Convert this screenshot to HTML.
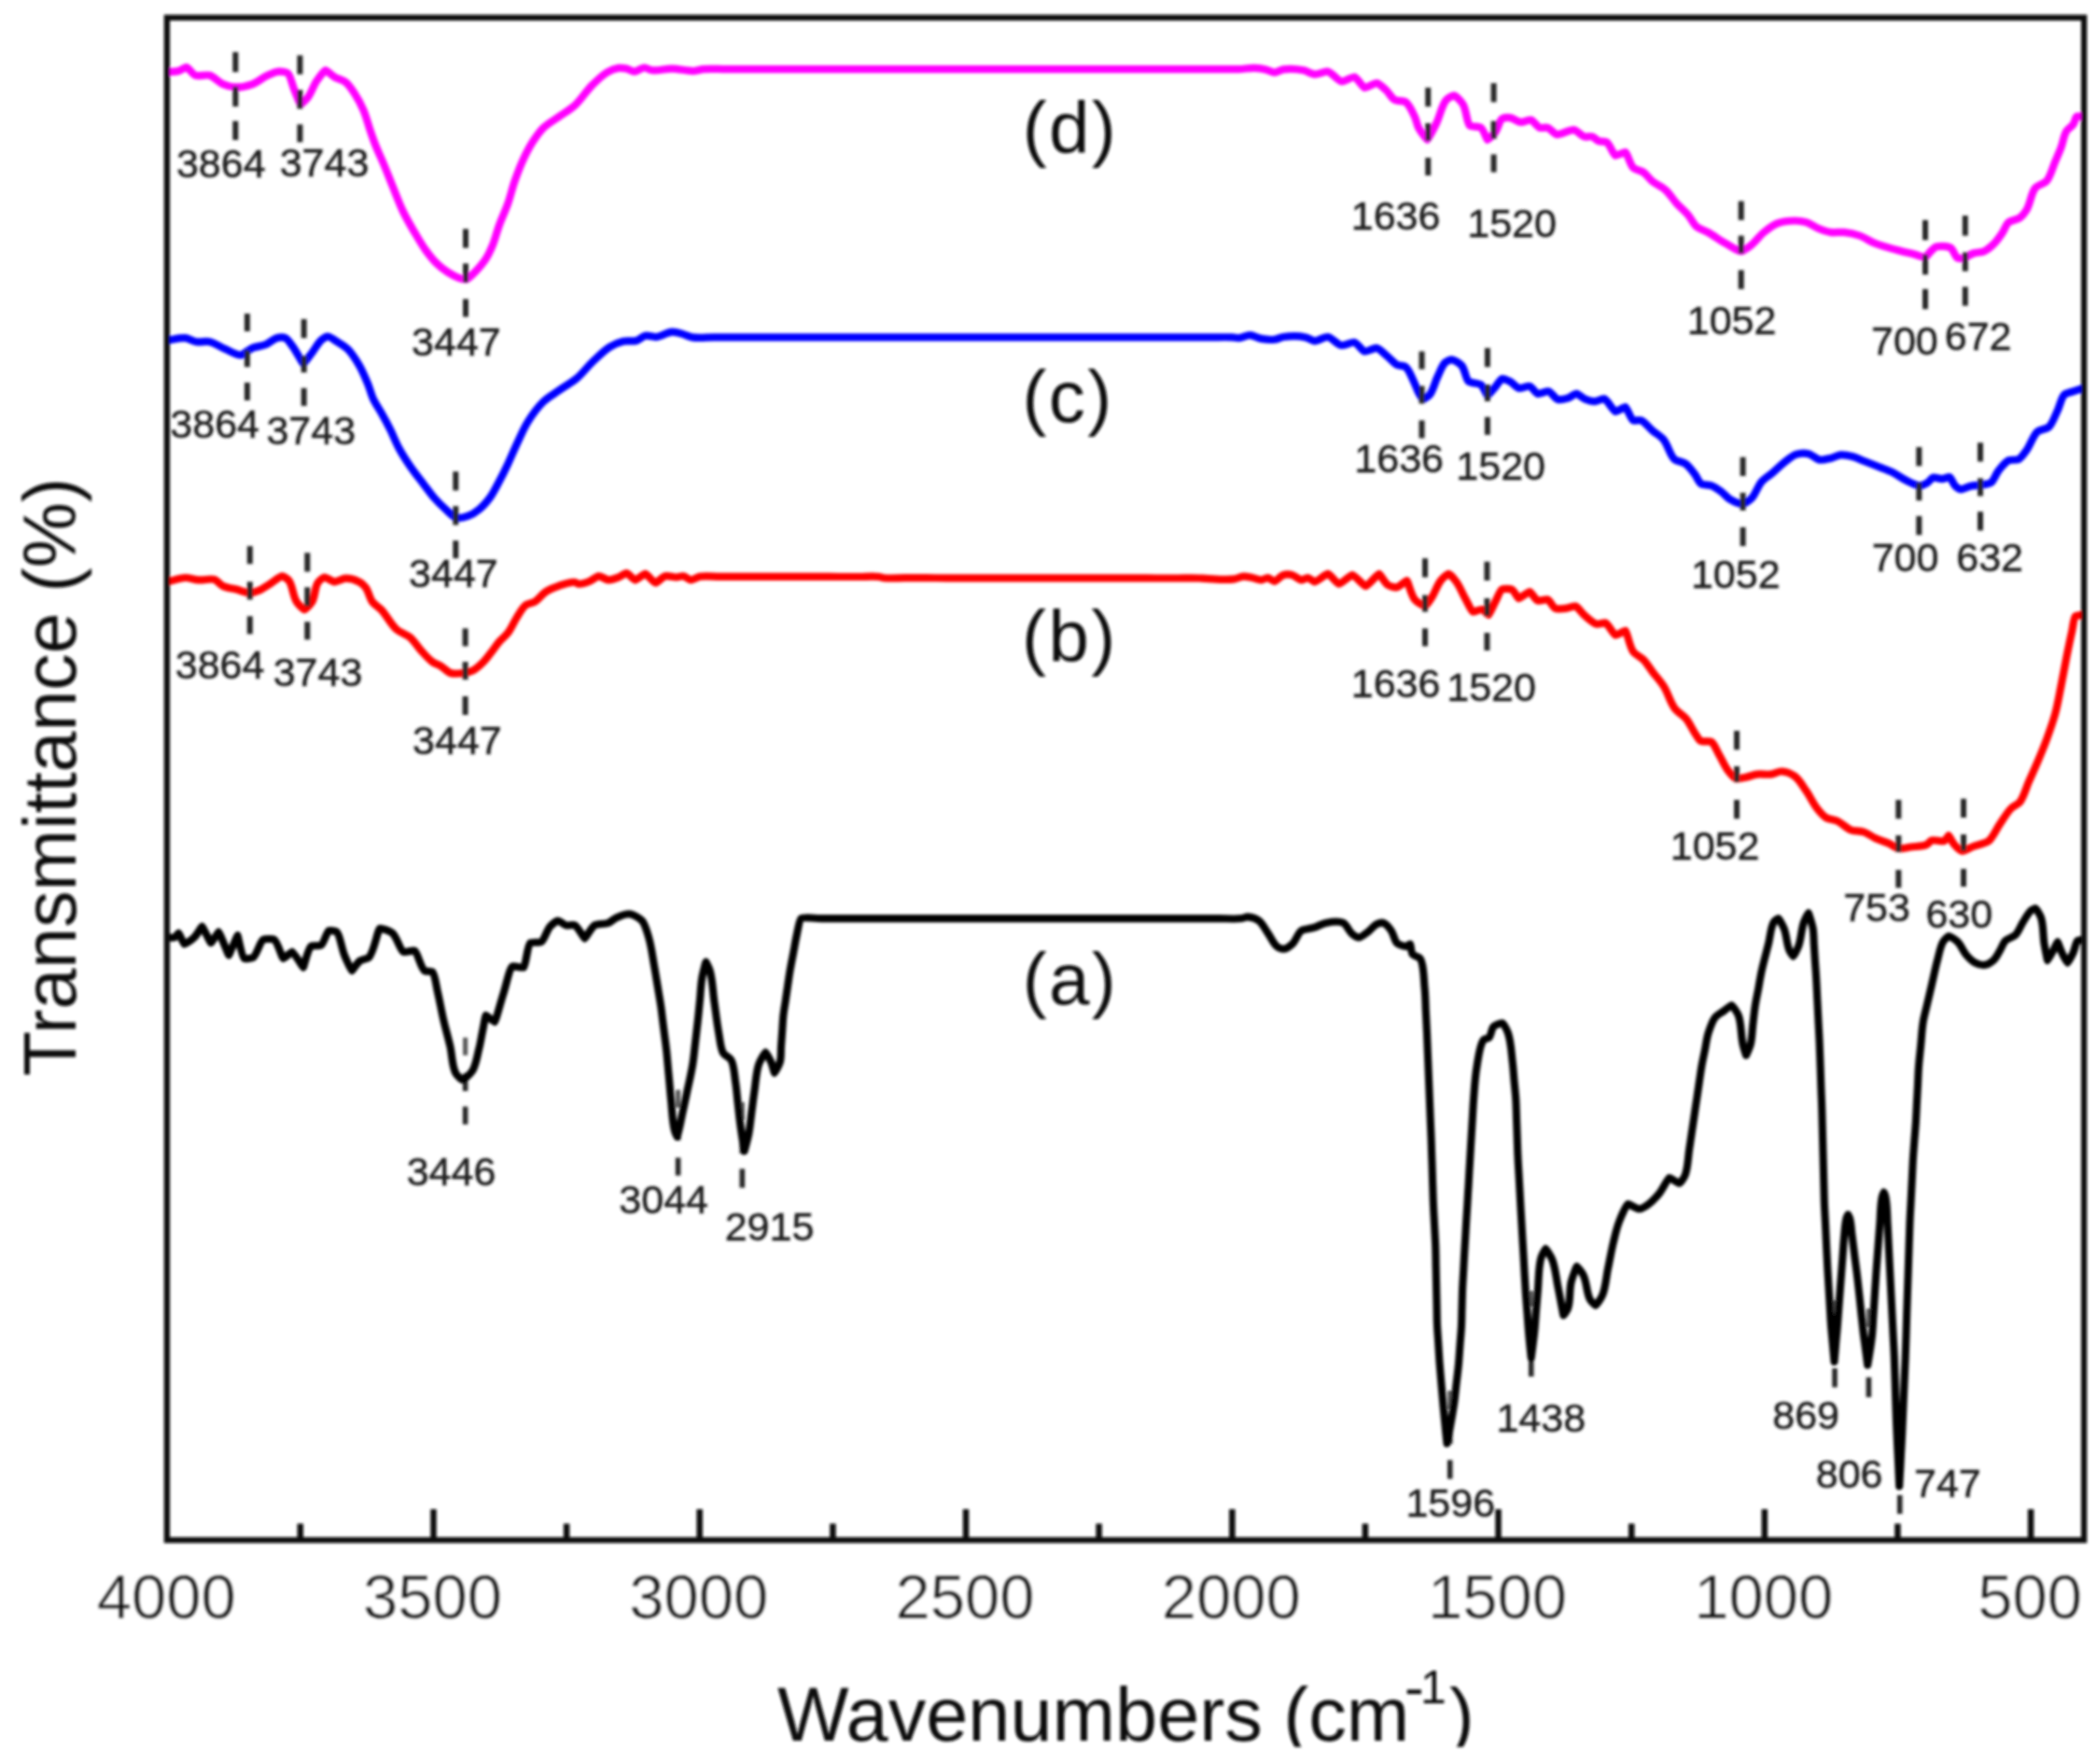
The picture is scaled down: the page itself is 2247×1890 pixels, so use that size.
<!DOCTYPE html>
<html><head><meta charset="utf-8"><title>FTIR spectra</title>
<style>
html,body{margin:0;padding:0;background:#fff;}
body{width:2247px;height:1890px;overflow:hidden;}
svg{display:block;}
text{font-family:"Liberation Sans",sans-serif;fill:#1c1c1c;}
.lab{font-size:43px;stroke:#1c1c1c;stroke-width:0.5px;}
.tick{font-size:67px;fill:#111;stroke:#fff;stroke-width:0.5px;}
.big{font-size:78px;fill:#111;letter-spacing:2.4px;}
.ttl{font-size:80px;fill:#111;}
.cv{fill:none;stroke-linejoin:round;stroke-linecap:butt;}
</style></head><body>
<svg width="2247" height="1890" viewBox="0 0 2247 1890">
<rect x="0" y="0" width="2247" height="1890" fill="#fff"/>
<g filter="url(#bl)">


<path class="cv" d="M179.5,77.2 C183.5,76.8 187.9,77.0 191.5,76.0 C194.3,75.2 198.4,71.8 199.8,72.0 C201.8,72.3 206.3,79.6 209.3,80.8 C212.9,82.2 220.7,79.6 224.8,80.8 C229.4,82.2 234.2,88.2 239.1,90.3 C243.0,92.0 248.2,93.3 252.3,93.4 C257.8,93.6 264.8,92.2 270.1,90.3 C275.7,88.3 281.1,83.4 286.8,80.8 C290.5,79.1 295.1,77.0 298.8,76.7 C301.6,76.5 306.9,77.2 308.3,78.4 C311.2,80.7 313.0,90.4 315.4,96.3 C317.5,101.4 321.5,111.7 322.1,111.8 C322.5,111.9 327.8,107.2 329.8,104.6 C333.6,99.6 335.7,92.2 339.3,86.8 C342.0,82.8 347.5,75.5 348.8,75.3 C349.9,75.2 355.1,80.5 358.4,82.5 C362.0,84.7 367.2,85.6 370.3,88.0 C373.8,90.8 377.1,95.8 379.8,99.9 C383.4,105.4 386.8,111.7 389.4,117.8 C392.3,124.5 394.1,132.2 396.5,139.2 C398.4,144.7 400.3,150.5 402.5,155.9 C405.0,162.3 408.1,168.7 410.8,175.0 C414.1,182.8 417.2,191.0 420.4,198.8 C424.3,208.3 427.9,218.3 432.3,227.4 C435.8,234.7 440.1,241.9 444.2,248.9 C448.0,255.3 451.8,262.0 456.1,268.0 C459.7,272.9 463.7,278.1 468.0,282.3 C471.5,285.8 475.8,289.1 480.0,291.8 C483.6,294.1 487.9,296.5 491.9,297.8 C494.4,298.6 498.4,299.5 500.2,299.0 C502.6,298.3 506.1,294.4 508.6,291.8 C512.8,287.5 517.2,282.5 520.5,277.5 C523.3,273.2 525.7,268.0 527.7,263.2 C530.5,256.4 532.2,248.7 534.8,241.7 C537.7,233.8 541.5,225.9 544.3,217.9 C547.0,210.2 548.8,201.8 551.5,194.1 C554.3,186.1 557.4,177.8 561.0,170.2 C563.8,164.2 567.0,157.9 570.6,152.3 C574.1,147.0 578.1,141.1 582.5,136.8 C587.2,132.3 593.7,128.8 599.2,124.9 C604.7,121.0 611.1,117.4 615.9,113.0 C622.6,106.9 627.8,98.0 634.3,91.5 C639.4,86.4 645.1,80.6 651.0,77.2 C654.4,75.2 659.1,73.4 662.9,72.9 C665.4,72.6 668.7,73.0 671.3,73.6 C674.0,74.2 677.4,76.7 679.6,76.7 C682.5,76.7 687.3,72.6 690.3,72.5 C692.6,72.4 696.0,75.0 698.7,75.3 C705.2,76.1 713.1,73.5 720.1,73.6 C727.9,73.7 736.4,76.4 744.0,76.0 C747.1,75.9 750.4,74.4 753.5,74.1 C761.2,73.3 769.5,74.1 777.4,74.1 C785.3,74.1 793.4,74.1 801.3,74.1 C809.2,74.1 817.4,74.1 825.2,74.1 C833.1,74.1 841.3,74.1 849.2,74.1 C857.1,74.1 865.2,74.1 873.1,74.1 C881.0,74.1 889.1,74.1 897.0,74.1 C904.9,74.1 913.0,74.1 920.9,74.1 C928.8,74.1 936.9,74.1 944.8,74.1 C952.7,74.1 960.9,74.1 968.8,74.1 C976.6,74.1 984.8,74.1 992.7,74.1 C1000.6,74.1 1008.7,74.1 1016.6,74.1 C1024.5,74.1 1032.6,74.1 1040.5,74.1 C1048.4,74.1 1056.5,74.1 1064.4,74.1 C1072.3,74.1 1080.4,74.1 1088.3,74.1 C1096.2,74.1 1104.4,74.1 1112.2,74.1 C1120.1,74.1 1128.3,74.1 1136.2,74.1 C1144.1,74.1 1152.2,74.1 1160.1,74.1 C1168.0,74.1 1176.1,74.1 1184.0,74.1 C1191.9,74.1 1200.0,74.1 1207.9,74.1 C1215.8,74.1 1223.9,74.1 1231.8,74.1 C1239.7,74.1 1247.9,74.1 1255.8,74.1 C1263.6,74.1 1271.8,74.1 1279.7,74.1 C1287.6,74.1 1295.7,74.1 1303.6,74.1 C1311.5,74.1 1319.6,74.4 1327.5,74.1 C1333.0,73.9 1338.8,72.8 1344.2,72.9 C1348.1,73.0 1352.3,73.5 1356.1,74.4 C1359.3,75.1 1363.0,77.7 1365.7,77.7 C1368.3,77.7 1372.1,74.9 1375.2,74.4 C1381.7,73.4 1390.1,74.0 1396.7,75.3 C1400.6,76.1 1405.0,79.3 1408.6,79.6 C1412.7,79.9 1419.6,76.0 1422.9,76.7 C1426.9,77.6 1433.6,86.6 1437.2,87.2 C1440.3,87.7 1449.1,81.9 1451.5,82.5 C1454.0,83.1 1459.8,93.3 1462.2,93.9 C1464.4,94.4 1472.6,88.7 1475.3,89.1 C1477.6,89.4 1482.0,93.7 1484.9,96.3 C1488.3,99.4 1491.1,105.1 1494.4,107.0 C1497.2,108.6 1504.0,107.8 1506.3,109.4 C1509.8,111.8 1513.4,119.6 1515.9,124.9 C1517.6,128.6 1518.2,133.3 1520.0,136.8 C1522.4,141.3 1529.1,149.9 1529.5,149.9 C1530.0,149.9 1536.2,138.1 1539.1,132.1 C1543.0,124.0 1545.0,112.4 1549.8,107.0 C1551.5,105.1 1556.8,102.1 1558.1,102.3 C1559.9,102.5 1565.6,108.4 1567.7,111.8 C1571.3,117.7 1571.6,131.5 1574.8,134.4 C1576.4,135.9 1584.6,135.2 1586.8,136.8 C1589.5,138.8 1593.3,149.8 1593.9,149.9 C1594.4,150.0 1600.1,144.6 1602.3,141.6 C1605.2,137.6 1606.8,129.2 1609.4,127.3 C1610.8,126.3 1615.4,125.8 1617.8,126.1 C1621.5,126.5 1626.2,130.6 1629.7,130.9 C1632.7,131.1 1638.2,127.9 1640.4,128.5 C1643.0,129.1 1646.9,135.7 1649.9,136.8 C1651.9,137.5 1656.2,136.1 1658.3,136.8 C1661.3,137.8 1665.3,143.5 1667.8,144.0 C1672.0,144.9 1682.4,138.4 1686.9,139.2 C1689.8,139.7 1694.2,145.4 1697.6,146.4 C1699.8,147.1 1703.8,145.7 1706.0,146.4 C1708.3,147.1 1710.7,150.2 1713.1,151.1 C1715.5,152.0 1719.9,151.3 1721.5,152.3 C1724.8,154.4 1728.9,165.9 1731.0,166.6 C1732.4,167.1 1740.6,162.6 1741.7,163.1 C1743.6,163.9 1746.6,176.5 1750.1,179.8 C1752.3,181.9 1757.8,182.5 1760.8,184.5 C1764.3,186.9 1767.0,191.3 1770.4,194.1 C1774.7,197.6 1780.7,200.0 1784.7,203.6 C1789.1,207.5 1792.5,213.4 1796.6,217.9 C1800.3,222.0 1804.9,225.6 1808.5,229.8 C1811.9,233.8 1814.4,239.8 1818.0,242.9 C1821.0,245.4 1826.2,246.7 1830.0,248.9 C1836.4,252.5 1842.6,257.2 1849.0,260.8 C1854.4,263.8 1862.1,269.3 1865.7,269.2 C1868.0,269.1 1872.8,265.5 1875.8,263.2 C1880.9,259.2 1885.0,253.0 1890.1,248.9 C1894.4,245.4 1899.6,241.3 1904.4,239.4 C1909.8,237.3 1917.3,236.5 1923.4,236.5 C1927.2,236.5 1931.8,237.1 1935.4,238.2 C1940.2,239.7 1944.9,243.4 1949.7,245.3 C1953.5,246.8 1957.7,248.3 1961.6,248.9 C1966.1,249.6 1971.3,248.4 1975.9,248.9 C1981.4,249.5 1987.4,250.7 1992.6,252.5 C1998.2,254.5 2003.7,258.6 2009.3,260.8 C2016.8,263.8 2025.2,265.8 2033.1,268.0 C2039.4,269.7 2045.9,271.1 2052.2,272.7 C2055.7,273.6 2061.0,276.1 2062.9,275.6 C2064.4,275.2 2066.8,271.2 2068.9,269.2 C2070.7,267.5 2073.0,265.0 2074.8,264.4 C2078.4,263.3 2087.4,263.9 2090.3,265.6 C2092.7,267.0 2095.2,275.1 2097.5,276.3 C2098.8,277.0 2102.6,276.8 2104.7,276.3 C2107.8,275.6 2111.0,272.6 2114.2,271.5 C2117.8,270.3 2122.8,270.7 2126.1,269.2 C2129.4,267.8 2132.9,264.7 2135.7,262.0 C2139.2,258.6 2142.4,254.2 2145.2,250.1 C2147.8,246.4 2149.5,240.6 2152.3,238.2 C2154.9,236.0 2161.2,235.6 2164.3,233.4 C2166.9,231.5 2169.6,228.0 2171.4,225.1 C2175.6,218.2 2176.5,206.4 2181.0,201.2 C2183.4,198.4 2190.4,196.9 2192.9,194.1 C2197.1,189.3 2199.3,179.7 2202.4,172.6 C2204.4,167.9 2206.6,163.1 2208.4,158.3 C2210.6,152.5 2211.4,145.1 2214.3,140.4 C2215.9,137.9 2219.8,135.9 2221.5,133.3 C2223.1,131.0 2223.9,125.7 2225.1,124.9 C2226.1,124.3 2229.9,124.9 2232.2,124.9" stroke="#ff00ff" stroke-width="8.2"/>
<path class="cv" d="M179.5,364.6 C185.8,363.8 192.9,361.6 198.6,362.2 C202.3,362.6 206.6,365.6 210.5,366.2 C214.9,366.9 220.6,365.3 224.8,366.2 C230.2,367.4 235.9,371.7 241.5,374.1 C246.9,376.4 254.5,380.9 258.2,380.5 C261.1,380.2 266.0,374.7 270.1,372.9 C274.3,371.1 280.1,371.1 284.4,369.3 C288.5,367.6 292.6,363.3 296.4,362.2 C299.0,361.5 303.9,361.3 305.9,362.2 C308.2,363.2 311.0,367.6 313.1,370.5 C317.5,376.4 324.2,389.6 325.0,389.6 C325.6,389.6 331.4,381.7 334.5,377.7 C337.8,373.4 340.4,367.9 344.1,364.6 C345.9,362.9 349.7,360.5 351.2,360.5 C353.3,360.5 357.7,363.9 360.7,365.8 C364.8,368.3 369.5,370.9 372.7,374.1 C377.2,378.6 381.2,385.1 384.6,390.8 C388.3,397.1 391.3,404.3 394.1,411.1 C396.3,416.5 397.7,422.6 400.1,427.8 C402.4,432.7 405.7,437.3 408.4,442.1 C411.7,447.9 415.0,453.9 418.0,459.9 C421.3,466.5 424.0,473.7 427.5,480.2 C431.0,486.7 435.2,493.2 439.4,499.3 C443.8,505.8 448.9,512.1 453.7,518.4 C457.6,523.5 461.5,529.1 465.7,533.9 C469.3,538.0 473.5,542.1 477.6,545.8 C481.0,548.9 485.2,553.7 488.3,554.6 C491.3,555.5 497.6,554.2 501.4,552.9 C505.4,551.5 509.9,548.6 513.3,545.8 C517.7,542.3 521.9,537.3 525.3,532.7 C528.9,527.7 531.8,521.6 534.8,516.0 C538.1,509.8 541.3,503.3 544.3,496.9 C547.6,489.9 550.6,482.4 553.9,475.4 C557.7,467.5 561.2,458.9 565.8,451.6 C570.5,444.1 576.3,436.1 582.5,430.1 C587.2,425.6 593.7,422.1 599.2,418.2 C605.5,413.8 612.6,409.9 618.3,405.1 C624.0,400.3 628.8,393.7 634.3,388.4 C640.3,382.6 646.7,375.9 653.4,371.7 C657.5,369.1 663.0,366.8 667.7,365.7 C672.0,364.7 677.9,366.2 682.0,365.0 C685.1,364.1 688.6,360.4 691.5,359.8 C694.7,359.1 699.9,361.4 703.5,361.0 C708.8,360.4 715.1,356.0 720.1,355.7 C723.6,355.5 728.2,357.0 732.1,358.1 C735.3,359.0 738.5,360.9 741.6,361.4 C748.7,362.6 757.1,361.4 764.8,361.4 C772.4,361.4 780.3,361.4 787.9,361.4 C795.5,361.4 803.4,361.4 811.1,361.4 C818.7,361.4 826.6,361.4 834.2,361.4 C841.8,361.4 849.7,361.4 857.4,361.4 C865.0,361.4 872.9,361.4 880.5,361.4 C888.2,361.4 896.0,361.4 903.7,361.4 C911.3,361.4 919.2,361.4 926.8,361.4 C934.5,361.4 942.3,361.4 950.0,361.4 C957.6,361.4 965.5,361.4 973.1,361.4 C980.8,361.4 988.6,361.4 996.3,361.4 C1003.9,361.4 1011.8,361.4 1019.4,361.4 C1027.1,361.4 1034.9,361.4 1042.6,361.4 C1050.2,361.4 1058.1,361.4 1065.7,361.4 C1073.4,361.4 1081.2,361.4 1088.9,361.4 C1096.5,361.4 1104.4,361.4 1112.0,361.4 C1119.7,361.4 1127.5,361.4 1135.2,361.4 C1142.8,361.4 1150.7,361.4 1158.3,361.4 C1166.0,361.4 1173.8,361.4 1181.5,361.4 C1189.1,361.4 1197.0,361.4 1204.6,361.4 C1212.3,361.4 1220.2,361.4 1227.8,361.4 C1235.4,361.4 1243.3,361.4 1250.9,361.4 C1258.6,361.4 1266.5,361.4 1274.1,361.4 C1281.7,361.4 1289.6,361.4 1297.2,361.4 C1304.9,361.4 1312.8,361.0 1320.4,361.4 C1322.7,361.5 1325.3,362.4 1327.5,362.2 C1331.3,361.9 1335.9,359.0 1339.4,359.1 C1342.9,359.2 1347.4,362.2 1351.4,362.9 C1355.9,363.7 1361.3,364.3 1365.7,363.8 C1368.8,363.5 1372.1,361.4 1375.2,361.0 C1382.6,360.0 1391.8,359.9 1399.0,361.4 C1402.1,362.0 1405.9,365.2 1408.6,365.3 C1412.5,365.5 1419.5,360.5 1422.9,361.0 C1426.7,361.5 1433.2,369.3 1437.2,370.0 C1440.7,370.6 1448.6,366.1 1451.5,366.9 C1454.4,367.7 1459.5,375.9 1462.2,376.5 C1464.8,377.1 1472.5,372.3 1475.3,372.9 C1478.4,373.5 1483.4,379.2 1487.3,382.4 C1490.5,385.1 1493.5,389.1 1496.8,390.8 C1499.3,392.1 1504.5,391.8 1506.3,393.2 C1510.0,396.1 1513.0,405.0 1515.9,411.0 C1517.4,414.1 1518.4,417.6 1520.0,420.6 C1521.3,423.1 1524.1,427.7 1524.8,427.8 C1525.5,427.9 1530.4,424.9 1531.9,423.0 C1535.7,418.5 1537.3,410.1 1540.3,403.9 C1542.8,398.7 1545.2,391.5 1548.6,388.4 C1550.1,387.0 1554.2,385.2 1555.8,385.3 C1558.4,385.5 1564.3,389.4 1566.5,392.0 C1569.7,395.8 1570.6,406.1 1573.6,408.7 C1575.8,410.6 1584.1,410.3 1586.8,412.3 C1589.5,414.3 1593.4,424.2 1593.9,424.2 C1594.4,424.2 1599.6,417.8 1602.3,414.6 C1604.7,411.7 1607.8,406.3 1609.4,405.8 C1610.7,405.4 1615.3,407.4 1617.8,408.7 C1621.1,410.4 1624.6,415.1 1627.3,415.8 C1630.1,416.5 1636.7,413.1 1639.2,413.9 C1641.6,414.6 1645.3,421.1 1647.6,421.8 C1650.0,422.5 1657.0,418.7 1659.5,419.4 C1662.1,420.1 1666.2,426.9 1669.0,427.8 C1671.4,428.6 1676.6,427.6 1679.8,426.6 C1683.0,425.7 1687.3,421.7 1689.3,421.8 C1691.4,421.9 1695.6,426.4 1698.8,427.8 C1701.6,429.0 1705.5,430.1 1708.4,430.1 C1711.6,430.1 1717.3,426.7 1719.1,427.3 C1722.1,428.2 1728.6,440.4 1731.0,440.9 C1732.6,441.2 1740.6,435.7 1741.7,436.1 C1743.3,436.6 1747.4,448.9 1750.1,450.4 C1751.4,451.2 1756.4,449.7 1758.4,450.4 C1762.2,451.8 1766.4,457.7 1770.4,461.1 C1774.2,464.4 1779.3,467.1 1782.3,470.7 C1787.1,476.4 1789.4,487.9 1794.2,492.1 C1796.7,494.3 1803.0,494.7 1806.1,496.9 C1809.6,499.4 1812.8,503.9 1815.7,507.6 C1818.3,510.9 1820.2,516.7 1822.8,518.4 C1825.2,520.0 1831.2,519.3 1834.7,520.7 C1837.9,522.0 1841.3,524.5 1844.3,526.7 C1847.6,529.2 1850.5,533.1 1853.8,535.1 C1857.5,537.3 1863.8,540.1 1866.9,539.8 C1869.5,539.6 1874.5,536.3 1876.9,533.9 C1881.2,529.6 1883.4,520.9 1887.7,516.0 C1890.8,512.4 1895.8,509.7 1899.6,506.4 C1903.6,503.0 1907.4,498.9 1911.5,495.7 C1915.6,492.5 1920.3,488.3 1924.6,486.9 C1928.1,485.7 1934.1,485.4 1937.7,486.2 C1941.5,487.0 1946.1,492.0 1949.7,492.6 C1952.9,493.2 1957.8,491.8 1961.6,490.9 C1965.2,490.1 1969.0,487.7 1972.3,487.4 C1976.2,487.1 1981.3,488.2 1985.4,489.3 C1989.4,490.4 1993.4,492.4 1997.4,494.0 C2002.9,496.1 2008.5,498.3 2014.0,500.5 C2018.8,502.4 2023.8,504.1 2028.4,506.4 C2033.3,508.8 2037.8,512.5 2042.7,514.8 C2047.2,517.0 2053.1,520.3 2057.0,520.3 C2059.2,520.3 2063.0,518.6 2065.3,517.2 C2067.4,515.9 2069.6,512.2 2071.3,511.7 C2073.3,511.1 2077.8,513.2 2080.8,513.1 C2083.5,513.0 2088.0,510.7 2089.2,511.2 C2090.7,511.8 2092.8,518.4 2095.1,520.7 C2096.6,522.1 2099.5,524.1 2101.1,524.3 C2103.6,524.6 2108.2,521.5 2111.8,520.7 C2115.2,520.0 2119.0,520.2 2122.5,519.6 C2126.1,519.0 2131.1,518.7 2133.3,517.2 C2136.3,515.1 2138.5,508.0 2141.6,504.1 C2144.7,500.3 2148.7,495.0 2152.3,493.3 C2154.9,492.1 2160.7,493.4 2163.1,492.1 C2165.9,490.6 2169.0,485.9 2171.4,482.6 C2175.9,476.4 2178.6,466.3 2183.3,462.3 C2185.9,460.1 2192.8,459.8 2195.3,457.6 C2199.2,454.2 2201.9,445.7 2204.8,439.7 C2207.4,434.3 2208.8,426.0 2211.9,423.0 C2213.6,421.3 2218.3,420.5 2221.5,419.4 C2225.0,418.2 2228.7,417.0 2232.2,415.8" stroke="#0000ff" stroke-width="8.2"/>
<path class="cv" d="M179.5,623.3 C185.8,621.9 192.6,619.2 198.6,619.0 C203.0,618.9 208.2,621.1 212.9,621.4 C218.3,621.8 225.4,619.6 229.6,620.9 C232.6,621.8 235.8,626.4 239.1,628.0 C243.2,629.9 248.7,630.4 253.5,631.6 C258.2,632.8 263.5,635.2 267.8,635.2 C270.7,635.2 274.4,634.0 277.3,632.8 C281.3,631.1 285.3,628.1 289.2,625.7 C293.6,623.0 299.8,617.3 302.3,617.3 C303.7,617.3 308.1,620.3 309.5,622.1 C313.5,627.2 313.9,638.6 317.8,644.7 C319.7,647.7 325.2,653.1 326.2,653.1 C327.2,653.1 332.7,647.7 334.5,644.7 C337.6,639.4 337.3,629.4 340.5,624.5 C341.9,622.3 346.0,618.7 347.6,618.5 C349.6,618.2 355.4,623.1 358.4,623.3 C361.6,623.5 366.8,619.8 370.3,619.7 C374.5,619.6 380.7,621.3 384.6,623.3 C387.1,624.5 390.0,627.0 391.7,629.2 C394.8,633.2 395.8,640.5 398.9,644.7 C401.2,647.8 405.6,650.1 408.4,653.1 C414.4,659.5 418.8,669.0 425.1,674.5 C428.9,677.9 435.5,679.6 439.4,682.9 C443.8,686.7 447.3,692.7 451.4,697.2 C455.1,701.3 459.0,706.0 463.3,709.1 C466.0,711.1 469.9,712.1 472.8,713.9 C476.1,715.9 479.4,720.0 482.4,721.0 C486.3,722.3 492.9,721.7 497.8,721.0 C500.5,720.6 503.9,719.9 506.2,718.7 C510.3,716.6 514.6,712.6 518.1,709.1 C521.6,705.6 524.6,701.2 527.7,697.2 C530.1,694.1 532.3,690.6 534.8,687.7 C537.7,684.4 541.7,681.5 544.3,678.1 C548.0,673.2 550.5,666.7 553.9,661.4 C556.8,656.9 559.8,651.0 563.4,648.3 C565.7,646.6 570.3,646.3 573.0,644.7 C577.2,642.1 580.7,636.7 584.9,634.0 C589.0,631.3 594.4,629.2 599.2,627.6 C604.5,625.8 611.4,623.3 615.9,623.8 C617.1,623.9 618.8,625.6 620.0,625.7 C623.2,626.0 628.3,624.2 631.9,622.8 C635.2,621.5 639.1,617.5 641.5,617.3 C644.0,617.1 649.1,621.2 652.2,621.4 C655.2,621.6 659.6,619.8 662.9,618.5 C665.7,617.4 669.7,614.1 671.3,614.2 C673.3,614.4 679.0,621.3 680.8,621.4 C682.7,621.5 689.8,614.7 691.5,614.9 C693.5,615.1 700.4,624.4 702.3,624.5 C704.0,624.6 709.8,618.1 713.0,617.3 C716.0,616.5 721.1,618.6 724.9,618.5 C727.2,618.4 730.1,617.0 732.1,617.3 C734.6,617.7 738.2,621.3 740.4,621.4 C742.8,621.5 746.8,618.4 749.9,617.8 C756.4,616.6 764.2,617.8 771.2,617.8 C778.3,617.8 785.5,617.8 792.6,617.8 C799.6,617.9 806.9,617.9 813.9,617.9 C820.9,617.9 828.2,617.9 835.2,617.9 C842.3,617.9 849.5,617.9 856.6,617.9 C863.6,617.9 870.9,617.9 877.9,617.9 C884.9,617.9 892.2,617.9 899.2,618.0 C906.3,618.0 913.5,618.0 920.6,618.0 C927.6,618.0 935.1,617.2 941.9,618.0 C943.6,618.2 945.4,619.0 947.1,619.2 C954.3,620.0 962.2,619.2 969.6,619.2 C977.0,619.2 984.7,619.2 992.1,619.2 C999.5,619.2 1007.2,619.3 1014.6,619.3 C1022.0,619.3 1029.7,619.3 1037.1,619.3 C1044.5,619.3 1052.2,619.3 1059.6,619.3 C1067.0,619.3 1074.7,619.3 1082.1,619.3 C1089.5,619.3 1097.2,619.3 1104.6,619.3 C1112.0,619.3 1119.7,619.4 1127.1,619.4 C1134.5,619.4 1142.2,619.4 1149.6,619.4 C1157.0,619.4 1164.7,619.4 1172.1,619.4 C1179.5,619.4 1187.2,619.4 1194.6,619.4 C1202.0,619.4 1209.7,619.4 1217.1,619.4 C1224.5,619.4 1232.2,619.5 1239.6,619.5 C1247.0,619.5 1254.7,619.5 1262.1,619.5 C1269.5,619.5 1277.2,619.3 1284.6,619.5 C1286.9,619.6 1289.4,619.8 1291.7,619.9 C1301.9,620.3 1313.0,621.7 1322.7,620.4 C1325.8,620.0 1329.3,617.8 1332.3,617.6 C1335.2,617.4 1338.7,618.4 1341.8,619.0 C1345.0,619.6 1348.6,621.5 1351.4,621.4 C1353.5,621.3 1356.7,618.9 1358.5,619.0 C1360.4,619.2 1364.3,622.9 1365.7,622.8 C1367.7,622.7 1372.2,617.1 1375.2,616.1 C1377.7,615.3 1382.0,615.4 1384.7,616.1 C1387.8,616.9 1391.8,621.2 1394.3,621.4 C1396.0,621.6 1399.7,618.8 1401.4,619.0 C1403.3,619.2 1407.1,623.3 1408.6,623.3 C1411.6,623.3 1420.6,614.7 1422.9,614.9 C1425.1,615.1 1432.8,625.6 1434.8,625.7 C1437.0,625.9 1446.8,616.0 1449.1,616.1 C1451.6,616.2 1461.4,628.0 1463.4,628.0 C1465.5,628.0 1476.3,614.8 1477.7,614.9 C1478.8,615.0 1483.9,624.7 1487.3,626.9 C1489.5,628.3 1494.6,629.6 1496.8,629.2 C1499.7,628.7 1506.8,621.9 1507.5,622.1 C1508.6,622.4 1512.0,637.8 1515.9,642.4 C1518.2,645.2 1525.9,649.7 1527.2,649.5 C1528.3,649.3 1532.2,643.3 1534.3,640.0 C1537.8,634.4 1539.9,627.0 1543.8,622.1 C1545.9,619.4 1551.2,614.9 1552.2,614.9 C1553.3,614.9 1558.3,620.3 1560.5,623.3 C1564.3,628.5 1566.8,635.4 1570.1,641.2 C1572.8,646.0 1576.4,654.6 1578.4,655.5 C1579.6,656.0 1586.0,652.6 1588.0,653.1 C1589.9,653.5 1594.7,659.1 1595.1,659.0 C1595.9,658.8 1599.9,649.4 1602.3,644.7 C1604.6,640.3 1607.1,633.0 1609.4,631.6 C1611.1,630.6 1618.1,630.6 1620.1,631.6 C1622.4,632.7 1626.1,641.0 1627.3,641.2 C1628.7,641.5 1637.6,633.8 1639.2,634.0 C1640.6,634.2 1645.2,642.5 1647.6,643.5 C1649.7,644.3 1656.2,641.6 1658.3,642.4 C1660.7,643.3 1664.0,650.7 1666.6,651.9 C1668.8,652.9 1673.9,652.3 1677.4,651.9 C1680.9,651.5 1686.1,648.9 1688.1,649.5 C1690.9,650.3 1695.0,657.0 1698.8,660.2 C1702.4,663.3 1707.2,667.7 1710.7,668.6 C1713.0,669.2 1718.6,666.7 1720.3,667.4 C1723.3,668.6 1728.8,680.0 1731.0,680.5 C1732.5,680.9 1740.9,675.4 1741.7,675.7 C1743.3,676.4 1746.1,692.9 1750.1,698.4 C1752.4,701.5 1757.8,703.6 1760.8,706.7 C1764.5,710.5 1767.5,715.6 1770.8,719.9 C1774.7,725.0 1779.4,730.0 1782.8,735.4 C1787.4,742.7 1789.7,752.7 1794.7,759.2 C1797.7,763.1 1803.4,766.0 1806.6,769.9 C1810.3,774.3 1812.8,780.4 1816.1,785.4 C1818.0,788.2 1820.1,792.6 1822.1,793.8 C1824.5,795.2 1831.9,793.7 1834.0,795.0 C1836.9,796.9 1839.7,804.6 1842.4,809.3 C1845.6,814.8 1848.2,821.2 1851.9,826.0 C1854.2,829.0 1857.9,833.5 1860.3,834.3 C1862.5,835.0 1867.5,833.4 1871.0,832.7 C1875.0,831.9 1879.0,830.1 1882.9,829.6 C1887.4,829.0 1892.7,830.2 1897.2,829.6 C1901.1,829.1 1905.8,826.3 1909.1,826.5 C1913.3,826.7 1919.9,829.3 1923.4,831.9 C1927.9,835.2 1931.7,842.1 1935.4,847.4 C1939.6,853.5 1942.8,860.8 1947.3,866.5 C1950.0,869.9 1953.4,874.1 1956.8,876.1 C1959.9,877.9 1965.2,877.9 1968.7,879.6 C1973.6,881.9 1978.3,887.3 1983.1,889.2 C1987.2,890.8 1993.1,890.0 1997.4,891.5 C2001.4,892.9 2005.3,896.1 2009.3,898.0 C2013.8,900.1 2019.0,901.4 2023.6,903.5 C2027.2,905.1 2031.0,908.4 2034.3,909.0 C2037.9,909.7 2043.1,908.1 2047.4,907.5 C2052.9,906.8 2059.6,907.0 2064.1,905.1 C2066.1,904.2 2068.3,901.0 2070.1,900.4 C2073.3,899.4 2080.7,902.2 2083.2,901.1 C2084.6,900.5 2087.7,895.1 2088.0,895.1 C2088.4,895.1 2091.6,902.0 2093.9,904.7 C2096.1,907.3 2100.4,911.5 2102.3,911.8 C2104.5,912.2 2110.2,908.5 2114.2,907.0 C2119.7,904.9 2127.2,904.0 2130.9,901.1 C2135.4,897.6 2138.8,889.0 2142.8,883.2 C2146.6,877.6 2150.2,871.1 2154.7,866.5 C2157.3,863.8 2162.1,862.1 2164.3,859.4 C2168.5,854.1 2170.7,845.0 2173.8,837.9 C2176.9,830.8 2180.3,823.5 2183.3,816.4 C2186.6,808.6 2190.0,800.5 2192.9,792.6 C2196.3,783.3 2199.8,773.5 2202.4,764.0 C2204.9,754.8 2206.5,744.9 2208.4,735.4 C2210.4,725.2 2212.3,714.6 2214.3,704.4 C2216.2,694.9 2218.2,685.2 2220.3,675.8 C2221.4,670.7 2222.0,662.1 2223.9,660.3 C2224.9,659.3 2229.5,659.2 2232.2,658.6" stroke="#ff0000" stroke-width="8.2"/>
<g stroke-linecap="butt">
<line x1="498.6" y1="1111.7" x2="498.6" y2="1130.7" stroke="#5a5a5a" stroke-width="5.2"/>
<line x1="498.6" y1="1150.0" x2="498.6" y2="1169.0" stroke="#262626" stroke-width="5.6"/>
<line x1="498.6" y1="1185.6" x2="498.6" y2="1204.7" stroke="#262626" stroke-width="5.6"/>
<line x1="726.6" y1="1167.7" x2="726.6" y2="1186.8" stroke="#5a5a5a" stroke-width="5.2"/>
<line x1="726.6" y1="1204.0" x2="726.6" y2="1222.0" stroke="#262626" stroke-width="5.6"/>
<line x1="726.6" y1="1240.4" x2="726.6" y2="1259.5" stroke="#262626" stroke-width="5.6"/>
<line x1="795.3" y1="1180.8" x2="795.3" y2="1199.9" stroke="#5a5a5a" stroke-width="5.2"/>
<line x1="795.3" y1="1216.0" x2="795.3" y2="1236.0" stroke="#262626" stroke-width="5.6"/>
<line x1="795.3" y1="1252.3" x2="795.3" y2="1272.6" stroke="#262626" stroke-width="5.6"/>
<line x1="1553.7" y1="1490.0" x2="1553.7" y2="1510.0" stroke="#5a5a5a" stroke-width="5.2"/>
<line x1="1553.7" y1="1527.0" x2="1553.7" y2="1547.0" stroke="#262626" stroke-width="5.6"/>
<line x1="1553.7" y1="1564.3" x2="1553.7" y2="1584.5" stroke="#262626" stroke-width="5.6"/>
<line x1="1640.7" y1="1383.0" x2="1640.7" y2="1400.0" stroke="#5a5a5a" stroke-width="5.2"/>
<line x1="1640.7" y1="1418.0" x2="1640.7" y2="1437.0" stroke="#262626" stroke-width="5.6"/>
<line x1="1640.7" y1="1453.4" x2="1640.7" y2="1474.9" stroke="#262626" stroke-width="5.6"/>
<line x1="1966.0" y1="1393.0" x2="1966.0" y2="1412.0" stroke="#5a5a5a" stroke-width="5.2"/>
<line x1="1966.0" y1="1430.0" x2="1966.0" y2="1449.0" stroke="#262626" stroke-width="5.6"/>
<line x1="1966.0" y1="1466.0" x2="1966.0" y2="1486.4" stroke="#262626" stroke-width="5.6"/>
<line x1="2002.4" y1="1402.0" x2="2002.4" y2="1422.0" stroke="#5a5a5a" stroke-width="5.2"/>
<line x1="2002.4" y1="1439.0" x2="2002.4" y2="1459.0" stroke="#262626" stroke-width="5.6"/>
<line x1="2002.4" y1="1475.7" x2="2002.4" y2="1497.0" stroke="#262626" stroke-width="5.6"/>
<line x1="2035.7" y1="1528.0" x2="2035.7" y2="1548.0" stroke="#5a5a5a" stroke-width="5.2"/>
<line x1="2035.7" y1="1565.0" x2="2035.7" y2="1585.0" stroke="#262626" stroke-width="5.6"/>
<line x1="2035.7" y1="1601.9" x2="2035.7" y2="1622.0" stroke="#262626" stroke-width="5.6"/>
</g>
<path class="cv" d="M179.5,1004.4 C181.9,1004.4 185.1,1005.1 186.7,1004.4 C188.2,1003.8 191.2,999.6 191.5,999.6 C192.0,999.7 196.6,1011.3 197.4,1011.5 C198.2,1011.7 205.3,1007.2 208.1,1004.4 C211.3,1001.3 216.1,992.5 216.5,992.5 C217.0,992.5 225.5,1010.3 226.0,1010.3 C226.4,1010.3 234.1,998.4 234.4,998.4 C234.9,998.5 244.9,1023.5 245.1,1023.5 C245.3,1023.5 254.5,1002.0 254.6,1002.0 C254.7,1002.0 259.4,1025.4 261.8,1027.0 C262.7,1027.6 269.6,1026.9 271.3,1025.8 C275.1,1023.2 278.6,1008.8 282.1,1006.8 C284.0,1005.7 292.3,1005.7 294.0,1006.8 C297.2,1008.8 302.3,1026.7 303.5,1027.0 C304.1,1027.2 312.2,1019.8 313.1,1019.9 C314.7,1020.2 324.7,1036.6 325.0,1036.6 C325.4,1036.5 330.0,1016.5 333.3,1013.9 C334.8,1012.7 342.3,1013.9 344.1,1012.7 C347.0,1010.7 350.1,998.4 352.4,997.2 C353.5,996.6 359.6,997.5 360.7,998.4 C364.2,1001.3 365.9,1015.5 369.1,1023.5 C371.4,1029.1 376.5,1040.0 377.0,1040.1 C377.4,1040.1 382.6,1031.7 385.8,1029.4 C388.2,1027.7 393.7,1027.4 395.3,1025.8 C400.7,1020.4 404.6,996.0 407.2,994.8 C408.3,994.3 417.6,997.3 420.4,999.6 C425.1,1003.5 428.8,1018.1 432.3,1019.9 C434.1,1020.8 442.6,1017.8 444.2,1018.7 C447.4,1020.4 451.0,1037.3 454.9,1040.1 C456.3,1041.1 462.3,1040.4 463.3,1041.3 C466.1,1043.8 467.4,1056.5 469.2,1064.0 C471.4,1073.4 473.0,1083.2 475.2,1092.6 C477.4,1102.1 480.2,1111.7 482.4,1121.2 C484.5,1130.6 484.4,1142.7 488.3,1149.8 C489.6,1152.3 494.6,1157.0 495.5,1157.0 C496.8,1157.0 504.0,1150.8 506.2,1147.4 C510.0,1141.5 511.3,1131.5 513.3,1123.6 C514.8,1117.8 515.7,1111.6 516.9,1105.7 C518.1,1099.8 520.1,1088.0 520.5,1087.8 C520.8,1087.7 529.6,1095.1 530.0,1095.0 C531.1,1094.6 536.3,1074.2 539.6,1064.0 C542.6,1054.5 546.0,1037.4 549.1,1035.4 C550.3,1034.6 559.9,1037.4 561.0,1036.6 C563.5,1034.9 565.0,1013.0 568.2,1010.3 C569.6,1009.1 578.0,1010.4 580.1,1009.1 C583.4,1007.0 585.7,996.8 589.6,992.5 C591.7,990.2 596.3,986.6 598.0,986.5 C599.6,986.4 603.6,990.6 606.3,991.3 C609.0,992.0 614.1,990.4 615.9,991.3 C619.3,993.0 625.8,1005.6 626.6,1005.6 C627.4,1005.6 633.6,993.6 637.3,991.3 C640.3,989.5 647.5,990.5 651.6,988.9 C654.8,987.7 657.9,984.3 661.2,982.9 C665.3,981.1 671.4,978.9 674.8,979.3 C678.5,979.7 685.4,983.6 688.0,986.5 C691.3,990.2 693.3,998.4 695.1,1004.4 C698.0,1014.2 699.3,1025.1 701.1,1035.4 C702.4,1042.5 703.5,1049.8 704.7,1056.8 C705.8,1063.9 707.2,1071.2 708.2,1078.3 C709.0,1083.5 709.5,1089.0 710.2,1094.2 C710.9,1099.4 711.5,1104.9 712.2,1110.1 C712.9,1115.3 713.6,1120.7 714.2,1126.0 C714.8,1131.8 715.3,1137.7 715.8,1143.5 C716.3,1149.2 716.9,1155.2 717.4,1160.9 C717.9,1166.7 718.4,1172.6 719.0,1178.4 C720.2,1189.4 720.3,1201.5 723.0,1211.8 C723.5,1213.9 725.6,1218.0 725.6,1218.0 C725.6,1218.0 727.1,1212.3 727.8,1209.4 C729.1,1203.9 730.1,1198.2 731.3,1192.7 C732.6,1186.4 734.1,1180.0 735.4,1173.7 C737.7,1162.6 740.5,1151.2 742.3,1140.0 C743.5,1132.6 744.1,1124.9 745.0,1117.5 C745.8,1110.1 746.8,1102.4 747.6,1095.0 C748.5,1087.1 749.2,1079.0 750.0,1071.2 C750.7,1063.3 751.0,1055.0 752.3,1047.3 C753.2,1041.8 756.3,1030.6 756.4,1030.6 C756.4,1030.6 759.8,1036.9 760.7,1040.1 C763.7,1050.4 763.8,1062.5 765.4,1073.5 C767.0,1084.5 768.2,1096.0 770.2,1106.9 C771.5,1114.0 772.0,1123.4 775.0,1128.4 C776.5,1130.9 781.8,1133.0 783.3,1135.5 C786.6,1141.0 786.9,1151.5 788.1,1159.4 C789.2,1166.4 789.7,1173.8 790.5,1180.8 C791.3,1187.9 792.0,1195.2 792.9,1202.3 C794.2,1212.6 797.6,1233.3 797.6,1233.3 C797.6,1233.3 801.2,1220.5 802.4,1214.2 C803.8,1206.8 804.4,1199.0 805.4,1191.6 C806.4,1184.1 807.3,1176.4 808.4,1168.9 C809.8,1159.4 810.2,1148.8 813.1,1140.3 C814.6,1135.9 820.0,1127.2 820.3,1127.2 C820.5,1127.2 824.7,1134.3 826.2,1137.9 C827.8,1141.6 829.7,1149.8 829.8,1149.8 C829.9,1149.8 834.7,1141.8 835.8,1137.9 C837.2,1133.0 836.6,1126.7 837.0,1121.2 C837.4,1115.7 837.8,1110.0 838.2,1104.5 C838.6,1099.0 838.8,1093.3 839.4,1087.8 C840.0,1082.5 841.0,1077.1 841.8,1071.9 C842.5,1066.7 843.4,1061.2 844.1,1056.0 C844.9,1050.8 845.6,1045.3 846.5,1040.1 C847.6,1033.8 848.9,1027.3 850.1,1021.0 C851.3,1014.8 852.3,1008.2 853.7,1002.0 C855.0,996.1 856.5,985.6 858.4,984.1 C860.8,982.2 874.2,984.1 882.0,984.1 C889.8,984.1 897.8,984.1 905.5,984.1 C913.3,984.1 921.3,984.1 929.1,984.1 C936.9,984.1 944.9,984.1 952.7,984.1 C960.5,984.1 968.5,984.1 976.3,984.1 C984.1,984.1 992.1,984.1 999.9,984.1 C1007.6,984.1 1015.6,984.1 1023.4,984.1 C1031.2,984.1 1039.2,984.1 1047.0,984.1 C1054.8,984.1 1062.8,984.1 1070.6,984.1 C1078.4,984.1 1086.4,984.1 1094.2,984.1 C1101.9,984.1 1109.9,984.1 1117.7,984.1 C1125.5,984.1 1133.5,984.1 1141.3,984.1 C1149.1,984.1 1157.1,984.1 1164.9,984.1 C1172.7,984.1 1180.7,984.1 1188.5,984.1 C1196.2,984.1 1204.2,984.1 1212.0,984.1 C1219.8,984.1 1227.8,984.1 1235.6,984.1 C1243.4,984.1 1251.4,984.1 1259.2,984.1 C1267.0,984.1 1275.0,984.1 1282.8,984.1 C1290.5,984.1 1298.5,984.1 1306.3,984.1 C1314.1,984.1 1322.4,985.0 1329.9,984.1 C1332.2,983.8 1335.0,982.3 1337.0,982.4 C1340.6,982.6 1346.2,984.4 1349.0,986.5 C1352.5,989.1 1355.5,995.2 1358.5,999.6 C1361.7,1004.2 1364.3,1010.9 1368.0,1013.9 C1369.7,1015.2 1373.5,1016.9 1375.2,1016.8 C1377.6,1016.7 1382.3,1013.7 1384.7,1011.5 C1388.4,1008.1 1390.8,999.7 1394.3,997.2 C1397.3,995.1 1404.0,995.1 1408.6,993.6 C1412.6,992.3 1416.6,989.6 1420.5,988.9 C1426.3,987.8 1435.9,987.1 1439.6,988.9 C1442.6,990.3 1445.5,997.9 1449.1,1000.8 C1451.0,1002.3 1454.8,1004.5 1456.3,1004.4 C1458.4,1004.3 1462.9,1000.6 1465.8,998.4 C1469.1,995.9 1472.1,991.6 1475.3,990.1 C1477.2,989.2 1481.1,988.4 1482.5,988.9 C1484.8,989.6 1488.7,994.2 1490.8,997.2 C1493.3,1000.9 1494.3,1007.9 1496.8,1010.3 C1498.6,1012.0 1503.9,1014.0 1506.3,1013.9 C1507.5,1013.8 1510.9,1011.4 1511.1,1011.5 C1511.6,1011.7 1512.0,1020.3 1513.5,1022.3 C1514.8,1024.1 1520.6,1025.3 1521.8,1027.0 C1525.8,1032.8 1525.5,1048.6 1526.6,1059.2 C1527.4,1067.0 1527.4,1075.2 1527.8,1083.1 C1528.2,1090.9 1528.6,1099.0 1529.0,1106.9 C1529.3,1113.5 1529.5,1120.2 1529.8,1126.8 C1530.1,1133.3 1530.3,1140.1 1530.6,1146.6 C1530.9,1153.2 1531.1,1159.9 1531.4,1166.5 C1531.7,1173.1 1531.9,1179.8 1532.2,1186.4 C1532.5,1192.9 1532.7,1199.7 1533.0,1206.2 C1533.3,1212.8 1533.6,1219.5 1533.8,1226.1 C1534.0,1232.9 1534.2,1239.9 1534.5,1246.6 C1534.7,1253.4 1534.9,1260.4 1535.1,1267.2 C1535.4,1273.9 1535.5,1280.9 1535.8,1287.7 C1536.1,1295.6 1536.6,1303.7 1537.0,1311.6 C1537.4,1319.4 1537.9,1327.5 1538.2,1335.4 C1538.5,1343.2 1538.5,1351.3 1538.7,1359.2 C1538.9,1367.1 1539.0,1375.1 1539.2,1383.0 C1539.3,1389.1 1539.5,1395.4 1539.6,1401.5 C1539.7,1407.6 1539.7,1413.9 1540.0,1420.0 C1540.3,1426.7 1540.9,1433.7 1541.3,1440.4 C1541.7,1447.1 1542.1,1454.1 1542.6,1460.8 C1543.1,1467.5 1543.8,1474.5 1544.3,1481.2 C1544.9,1487.9 1545.5,1494.9 1546.1,1501.6 C1546.9,1511.0 1547.9,1520.6 1548.8,1530.0 C1549.3,1535.4 1550.5,1546.5 1550.5,1546.5 C1550.5,1546.5 1552.4,1536.9 1553.3,1532.2 C1555.1,1522.1 1557.0,1511.7 1558.4,1501.6 C1559.3,1494.9 1559.9,1487.9 1560.7,1481.2 C1561.5,1474.5 1562.4,1467.5 1563.0,1460.8 C1563.6,1454.1 1564.0,1447.1 1564.5,1440.4 C1565.0,1433.7 1565.7,1426.7 1566.0,1420.0 C1566.3,1413.9 1566.3,1407.6 1566.5,1401.5 C1566.7,1395.4 1566.8,1389.1 1567.0,1383.0 C1567.3,1375.1 1567.9,1367.1 1568.3,1359.2 C1568.7,1351.3 1569.1,1343.3 1569.6,1335.4 C1570.1,1327.5 1570.6,1319.4 1571.0,1311.6 C1571.5,1303.7 1572.0,1295.6 1572.5,1287.7 C1572.8,1282.2 1573.1,1276.6 1573.5,1271.1 C1573.8,1265.7 1574.1,1260.0 1574.4,1254.6 C1574.8,1249.1 1575.1,1243.5 1575.4,1238.0 C1575.8,1231.4 1576.2,1224.7 1576.6,1218.1 C1577.0,1211.6 1577.4,1204.8 1577.8,1198.3 C1578.2,1191.7 1578.5,1184.9 1579.0,1178.4 C1579.9,1166.6 1580.5,1154.2 1582.5,1142.7 C1584.1,1133.2 1585.7,1118.8 1589.7,1114.1 C1590.6,1113.1 1594.5,1112.8 1595.6,1111.7 C1597.7,1109.5 1598.3,1101.9 1600.4,1099.8 C1602.1,1098.1 1608.9,1095.8 1609.9,1096.2 C1611.2,1096.7 1614.7,1103.3 1615.9,1106.9 C1619.1,1116.1 1619.5,1127.6 1620.7,1137.9 C1621.5,1144.5 1621.9,1151.5 1622.5,1158.2 C1623.1,1164.8 1623.9,1171.7 1624.3,1178.4 C1624.7,1184.9 1624.8,1191.7 1625.0,1198.3 C1625.2,1204.8 1625.5,1211.6 1625.7,1218.1 C1625.9,1224.7 1626.1,1231.4 1626.4,1238.0 C1626.7,1244.6 1627.1,1251.3 1627.5,1257.9 C1627.9,1264.5 1628.2,1271.2 1628.6,1277.8 C1629.0,1284.4 1629.3,1291.1 1629.7,1297.7 C1630.2,1306.2 1630.7,1315.0 1631.2,1323.5 C1631.6,1330.1 1632.0,1336.8 1632.4,1343.4 C1632.8,1349.9 1633.1,1356.7 1633.5,1363.2 C1633.9,1369.8 1634.3,1376.5 1634.7,1383.1 C1635.2,1391.0 1635.9,1399.0 1636.5,1406.9 C1637.1,1414.8 1637.6,1422.9 1638.3,1430.7 C1639.0,1438.6 1640.7,1454.6 1640.7,1454.6 C1640.7,1454.6 1643.3,1435.5 1644.3,1426.0 C1645.0,1418.9 1645.5,1411.6 1646.0,1404.5 C1646.6,1397.5 1647.2,1390.2 1647.8,1383.1 C1648.9,1371.3 1648.3,1357.9 1651.4,1347.3 C1652.3,1344.1 1656.0,1337.8 1656.2,1337.8 C1656.4,1337.8 1661.7,1345.7 1663.3,1349.7 C1666.6,1358.2 1667.4,1368.8 1669.3,1378.3 C1671.4,1388.5 1675.1,1409.3 1675.3,1409.3 C1675.4,1409.3 1679.1,1404.5 1680.0,1402.1 C1683.0,1394.0 1681.4,1382.5 1683.6,1373.5 C1684.9,1367.9 1689.3,1356.8 1689.6,1356.8 C1689.8,1356.8 1695.1,1363.1 1696.7,1366.4 C1700.4,1373.9 1700.0,1385.8 1703.9,1392.6 C1705.1,1394.7 1709.4,1398.6 1709.8,1398.6 C1710.5,1398.5 1715.5,1391.5 1717.0,1387.8 C1720.5,1379.5 1721.0,1368.6 1723.0,1359.2 C1725.0,1349.8 1726.6,1339.9 1728.9,1330.6 C1730.6,1323.5 1732.3,1315.8 1734.9,1309.1 C1737.4,1302.7 1742.5,1290.8 1744.4,1290.1 C1745.6,1289.7 1753.6,1295.4 1756.6,1295.3 C1759.0,1295.2 1763.4,1292.5 1766.1,1290.5 C1770.4,1287.4 1774.6,1282.8 1778.0,1278.6 C1782.0,1273.6 1787.0,1262.4 1788.8,1261.9 C1789.9,1261.6 1798.3,1268.1 1799.5,1267.8 C1800.5,1267.6 1804.3,1262.3 1805.5,1259.5 C1808.8,1251.6 1808.7,1240.3 1810.2,1230.9 C1811.2,1224.2 1812.2,1217.3 1813.2,1210.7 C1814.2,1204.0 1815.2,1197.1 1816.2,1190.4 C1817.0,1185.2 1817.8,1179.7 1818.6,1174.5 C1819.3,1169.3 1820.2,1163.8 1820.9,1158.6 C1821.7,1153.4 1822.4,1147.9 1823.3,1142.7 C1824.3,1136.8 1825.7,1130.7 1826.9,1124.8 C1828.1,1118.9 1828.7,1112.5 1830.5,1106.9 C1832.3,1101.3 1834.5,1094.3 1837.7,1090.2 C1839.8,1087.5 1844.0,1085.4 1847.2,1083.1 C1849.9,1081.1 1854.7,1077.0 1855.5,1077.1 C1856.5,1077.3 1861.3,1084.2 1862.7,1087.8 C1866.1,1096.5 1865.3,1108.8 1867.5,1118.8 C1868.4,1122.8 1871.0,1130.7 1871.0,1130.7 C1871.0,1130.7 1874.8,1122.8 1875.8,1118.8 C1877.4,1112.5 1877.4,1105.2 1878.2,1098.5 C1879.0,1091.9 1879.6,1084.9 1880.6,1078.3 C1881.6,1072.0 1883.0,1065.5 1884.2,1059.2 C1885.3,1052.9 1886.3,1046.4 1887.7,1040.1 C1889.8,1030.6 1892.5,1020.9 1894.9,1011.5 C1896.9,1003.6 1897.3,993.0 1900.8,987.7 C1901.7,986.4 1905.2,984.0 1905.6,984.1 C1906.3,984.3 1910.2,991.2 1911.6,994.8 C1914.5,1002.1 1914.4,1011.8 1917.5,1018.7 C1918.4,1020.7 1921.4,1024.6 1921.6,1024.6 C1921.9,1024.6 1925.8,1017.5 1927.1,1013.9 C1930.0,1005.8 1930.1,995.8 1933.0,987.7 C1934.2,984.5 1937.7,978.1 1937.8,978.1 C1937.9,978.1 1941.6,989.3 1942.6,994.8 C1943.6,1000.4 1943.4,1006.5 1943.8,1012.3 C1944.2,1018.1 1944.5,1024.0 1944.9,1029.8 C1945.3,1035.6 1945.8,1041.5 1946.1,1047.3 C1946.6,1055.2 1946.9,1063.3 1947.3,1071.1 C1947.7,1079.0 1948.1,1087.1 1948.5,1095.0 C1948.9,1102.8 1949.4,1110.9 1949.7,1118.8 C1950.0,1126.7 1950.3,1134.8 1950.6,1142.7 C1950.9,1150.5 1951.1,1158.7 1951.4,1166.5 C1951.7,1174.4 1952.1,1182.5 1952.3,1190.4 C1952.5,1196.8 1952.6,1203.4 1952.8,1209.8 C1953.0,1216.3 1953.1,1222.9 1953.3,1229.3 C1953.5,1235.7 1953.6,1242.3 1953.8,1248.7 C1954.0,1255.1 1954.1,1261.7 1954.3,1268.2 C1954.5,1274.6 1954.6,1281.2 1954.8,1287.6 C1955.1,1295.5 1955.6,1303.5 1956.0,1311.4 C1956.4,1319.3 1956.7,1327.3 1957.1,1335.2 C1957.5,1343.1 1957.9,1351.1 1958.3,1359.0 C1958.7,1365.6 1959.1,1372.3 1959.5,1378.9 C1959.9,1385.4 1960.3,1392.2 1960.7,1398.7 C1961.1,1405.3 1961.4,1412.1 1961.9,1418.6 C1962.4,1425.3 1963.1,1432.1 1963.7,1438.8 C1964.3,1445.5 1965.5,1459.0 1965.5,1459.0 C1965.5,1459.0 1966.7,1445.5 1967.2,1438.8 C1967.8,1432.1 1968.5,1425.3 1969.0,1418.6 C1969.6,1410.7 1970.2,1402.7 1970.8,1394.8 C1971.4,1386.9 1972.0,1378.9 1972.6,1371.0 C1973.2,1363.1 1973.8,1355.0 1974.4,1347.2 C1975.0,1339.3 1975.4,1331.1 1976.2,1323.3 C1976.8,1317.2 1977.0,1310.4 1978.6,1304.8 C1978.9,1303.7 1980.2,1301.4 1980.2,1301.4 C1980.2,1301.4 1981.5,1303.7 1981.9,1304.8 C1983.6,1310.4 1983.7,1317.2 1984.5,1323.3 C1985.2,1328.5 1985.8,1334.0 1986.5,1339.2 C1987.2,1344.4 1987.8,1349.9 1988.5,1355.1 C1989.2,1360.3 1989.9,1365.7 1990.5,1371.0 C1991.2,1377.0 1991.8,1383.2 1992.5,1389.2 C1993.1,1395.3 1993.8,1401.4 1994.4,1407.5 C1995.1,1413.5 1995.7,1419.7 1996.4,1425.7 C1997.1,1431.8 1998.0,1438.1 1998.8,1444.2 C1999.6,1450.2 2001.2,1462.6 2001.2,1462.6 C2001.2,1462.6 2004.9,1441.1 2006.0,1430.5 C2006.8,1422.7 2007.0,1414.5 2007.6,1406.7 C2008.1,1398.8 2008.6,1390.7 2009.1,1382.8 C2009.7,1375.0 2010.1,1366.9 2010.7,1359.0 C2011.3,1351.1 2011.9,1343.1 2012.5,1335.2 C2013.1,1327.3 2013.7,1319.2 2014.3,1311.4 C2015.1,1301.6 2014.7,1290.8 2016.9,1281.7 C2017.2,1280.3 2018.6,1277.6 2018.6,1277.6 C2018.6,1277.6 2019.9,1280.3 2020.2,1281.7 C2022.3,1290.9 2022.0,1301.6 2022.6,1311.4 C2023.1,1319.3 2023.4,1327.4 2023.8,1335.2 C2024.2,1343.1 2024.6,1351.2 2025.0,1359.1 C2025.4,1366.9 2025.8,1375.0 2026.2,1382.9 C2026.6,1390.8 2027.0,1398.8 2027.4,1406.7 C2027.8,1414.6 2028.2,1422.6 2028.6,1430.5 C2029.0,1438.4 2029.5,1446.4 2029.8,1454.3 C2030.1,1462.2 2030.3,1470.2 2030.6,1478.1 C2030.8,1486.0 2031.1,1494.0 2031.3,1501.9 C2031.6,1509.8 2031.8,1517.8 2032.1,1525.7 C2032.4,1533.0 2032.8,1540.6 2033.1,1547.9 C2033.5,1555.3 2033.8,1562.8 2034.2,1570.2 C2034.5,1577.5 2035.2,1592.4 2035.2,1592.4 C2035.2,1592.4 2035.8,1580.2 2036.2,1574.1 C2036.5,1568.1 2036.8,1561.9 2037.1,1555.9 C2037.5,1549.8 2037.8,1543.6 2038.1,1537.6 C2038.4,1530.7 2038.7,1523.6 2039.0,1516.8 C2039.3,1509.9 2039.6,1502.8 2039.9,1495.9 C2040.2,1489.1 2040.5,1482.0 2040.8,1475.1 C2041.1,1468.3 2041.4,1461.2 2041.7,1454.3 C2042.0,1446.4 2042.2,1438.4 2042.5,1430.5 C2042.7,1422.6 2043.0,1414.6 2043.2,1406.7 C2043.5,1398.8 2043.7,1390.8 2044.0,1382.9 C2044.3,1375.0 2044.5,1366.9 2044.8,1359.1 C2045.1,1351.2 2045.3,1343.1 2045.6,1335.2 C2045.9,1327.4 2046.1,1319.3 2046.4,1311.4 C2046.7,1303.5 2047.2,1295.5 2047.6,1287.6 C2048.0,1279.7 2048.4,1271.7 2048.8,1263.8 C2049.2,1255.9 2049.5,1247.8 2050.0,1240.0 C2050.4,1233.7 2051.0,1227.2 2051.4,1221.0 C2051.9,1214.7 2052.5,1208.2 2052.9,1201.9 C2053.3,1195.4 2053.6,1188.6 2053.9,1182.1 C2054.3,1175.5 2054.6,1168.8 2055.0,1162.2 C2055.3,1155.7 2055.5,1148.9 2056.0,1142.4 C2056.6,1134.5 2057.6,1126.5 2058.3,1118.6 C2059.1,1110.7 2059.4,1102.5 2060.7,1094.8 C2061.7,1088.9 2063.5,1082.8 2064.8,1076.9 C2066.2,1071.0 2067.6,1064.9 2069.0,1059.0 C2071.4,1048.8 2073.5,1038.2 2076.2,1028.1 C2077.9,1021.7 2079.1,1014.0 2082.1,1009.0 C2083.4,1006.9 2087.0,1003.2 2088.1,1003.1 C2089.5,1002.9 2095.2,1006.7 2097.6,1009.0 C2101.3,1012.6 2103.5,1019.2 2107.1,1023.3 C2109.8,1026.4 2113.4,1030.0 2116.7,1031.7 C2119.2,1033.0 2123.7,1034.3 2126.2,1034.0 C2128.9,1033.7 2133.4,1031.3 2135.7,1029.3 C2138.5,1026.9 2140.7,1022.2 2142.9,1018.6 C2145.0,1015.2 2146.4,1010.3 2148.8,1007.9 C2151.2,1005.4 2157.0,1004.4 2159.5,1001.9 C2162.9,998.6 2165.0,992.2 2167.9,987.6 C2170.5,983.6 2173.0,978.5 2176.2,975.7 C2177.4,974.7 2180.5,973.2 2181.0,973.3 C2182.1,973.6 2185.8,979.7 2186.9,982.9 C2189.8,991.1 2189.0,1002.1 2190.5,1011.4 C2191.5,1017.3 2193.9,1029.3 2194.0,1029.3 C2194.1,1029.3 2198.1,1022.2 2200.0,1018.6 C2201.7,1015.5 2204.7,1009.0 2204.8,1009.0 C2204.9,1009.0 2207.7,1017.2 2209.5,1021.0 C2211.2,1024.6 2215.3,1031.7 2215.5,1031.7 C2215.7,1031.7 2219.7,1024.6 2221.4,1021.0 C2223.3,1016.9 2224.2,1009.6 2226.2,1007.9 C2227.1,1007.1 2230.2,1007.1 2232.1,1006.7" stroke="#000" stroke-width="8.1"/>
<g stroke="#262626" stroke-width="6" stroke-linecap="butt">
<line x1="252.3" y1="55.8" x2="252.3" y2="77.2"/>
<line x1="252.3" y1="92.7" x2="252.3" y2="114.2"/>
<line x1="252.3" y1="129.7" x2="252.3" y2="150.0"/>
<line x1="321.4" y1="59.3" x2="321.4" y2="79.6"/>
<line x1="321.4" y1="96.3" x2="321.4" y2="116.6"/>
<line x1="321.4" y1="133.3" x2="321.4" y2="152.3"/>
<line x1="499.0" y1="245.3" x2="499.0" y2="265.6"/>
<line x1="499.0" y1="282.3" x2="499.0" y2="302.5"/>
<line x1="499.0" y1="320.4" x2="499.0" y2="339.5"/>
<line x1="1530.2" y1="93.9" x2="1530.2" y2="114.2"/>
<line x1="1530.2" y1="132.0" x2="1530.2" y2="151.0"/>
<line x1="1530.2" y1="169.0" x2="1530.2" y2="188.0"/>
<line x1="1600.6" y1="89.1" x2="1600.6" y2="109.4"/>
<line x1="1600.6" y1="129.7" x2="1600.6" y2="148.8"/>
<line x1="1600.6" y1="165.4" x2="1600.6" y2="184.5"/>
<line x1="1865.7" y1="215.5" x2="1865.7" y2="235.8"/>
<line x1="1865.7" y1="252.5" x2="1865.7" y2="271.5"/>
<line x1="1865.7" y1="289.4" x2="1865.7" y2="309.7"/>
<line x1="2063.0" y1="235.8" x2="2063.0" y2="257.2"/>
<line x1="2063.0" y1="272.7" x2="2063.0" y2="294.2"/>
<line x1="2063.0" y1="309.7" x2="2063.0" y2="331.2"/>
<line x1="2105.8" y1="231.0" x2="2105.8" y2="252.5"/>
<line x1="2105.8" y1="270.4" x2="2105.8" y2="290.6"/>
<line x1="2105.8" y1="307.3" x2="2105.8" y2="327.6"/>
<line x1="264.9" y1="336.0" x2="264.9" y2="355.0"/>
<line x1="264.9" y1="375.3" x2="264.9" y2="393.2"/>
<line x1="264.9" y1="409.9" x2="264.9" y2="429.0"/>
<line x1="325.7" y1="341.9" x2="325.7" y2="362.2"/>
<line x1="325.7" y1="381.3" x2="325.7" y2="399.1"/>
<line x1="325.7" y1="415.8" x2="325.7" y2="434.9"/>
<line x1="488.3" y1="505.2" x2="488.3" y2="525.5"/>
<line x1="488.3" y1="542.2" x2="488.3" y2="562.5"/>
<line x1="488.3" y1="579.2" x2="488.3" y2="598.2"/>
<line x1="1523.5" y1="376.5" x2="1523.5" y2="395.6"/>
<line x1="1523.5" y1="413.5" x2="1523.5" y2="432.5"/>
<line x1="1523.5" y1="450.4" x2="1523.5" y2="469.5"/>
<line x1="1593.9" y1="372.9" x2="1593.9" y2="393.2"/>
<line x1="1593.9" y1="412.0" x2="1593.9" y2="430.0"/>
<line x1="1593.9" y1="446.8" x2="1593.9" y2="465.9"/>
<line x1="1867.6" y1="489.8" x2="1867.6" y2="510.0"/>
<line x1="1867.6" y1="527.9" x2="1867.6" y2="547.0"/>
<line x1="1867.6" y1="564.9" x2="1867.6" y2="585.1"/>
<line x1="2056.3" y1="479.0" x2="2056.3" y2="499.3"/>
<line x1="2056.3" y1="517.2" x2="2056.3" y2="536.3"/>
<line x1="2056.3" y1="552.9" x2="2056.3" y2="573.2"/>
<line x1="2122.0" y1="474.3" x2="2122.0" y2="494.5"/>
<line x1="2122.0" y1="512.4" x2="2122.0" y2="531.5"/>
<line x1="2122.0" y1="548.2" x2="2122.0" y2="568.4"/>
<line x1="267.8" y1="585.1" x2="267.8" y2="604.2"/>
<line x1="267.8" y1="623.3" x2="267.8" y2="642.4"/>
<line x1="267.8" y1="660.2" x2="267.8" y2="679.3"/>
<line x1="329.3" y1="592.3" x2="329.3" y2="612.5"/>
<line x1="329.3" y1="629.2" x2="329.3" y2="649.5"/>
<line x1="329.3" y1="666.2" x2="329.3" y2="685.3"/>
<line x1="498.6" y1="673.3" x2="498.6" y2="692.4"/>
<line x1="498.6" y1="709.1" x2="498.6" y2="728.2"/>
<line x1="498.6" y1="746.0" x2="498.6" y2="766.0"/>
<line x1="1527.0" y1="598.2" x2="1527.0" y2="618.5"/>
<line x1="1527.0" y1="637.6" x2="1527.0" y2="655.5"/>
<line x1="1527.0" y1="673.3" x2="1527.0" y2="692.4"/>
<line x1="1593.4" y1="601.8" x2="1593.4" y2="622.0"/>
<line x1="1593.4" y1="641.0" x2="1593.4" y2="660.0"/>
<line x1="1593.4" y1="678.0" x2="1593.4" y2="697.0"/>
<line x1="1861.0" y1="783.0" x2="1861.0" y2="803.3"/>
<line x1="1861.0" y1="821.0" x2="1861.0" y2="838.0"/>
<line x1="1861.0" y1="857.0" x2="1861.0" y2="877.2"/>
<line x1="2034.3" y1="857.0" x2="2034.3" y2="877.2"/>
<line x1="2034.3" y1="895.0" x2="2034.3" y2="913.0"/>
<line x1="2034.3" y1="932.0" x2="2034.3" y2="951.2"/>
<line x1="2104.0" y1="855.8" x2="2104.0" y2="876.0"/>
<line x1="2104.0" y1="894.0" x2="2104.0" y2="911.8"/>
<line x1="2104.0" y1="930.9" x2="2104.0" y2="950.0"/>
</g>
<rect x="178.9" y="18.9" width="2054.2" height="1631.1999999999998" fill="none" stroke="#0a0a0a" stroke-width="6.3"/>
<g stroke="#0a0a0a" stroke-width="6.5">
<line x1="2176.1" y1="1650.1" x2="2176.1" y2="1617"/>
<line x1="1890.8" y1="1650.1" x2="1890.8" y2="1617"/>
<line x1="1605.5" y1="1650.1" x2="1605.5" y2="1617"/>
<line x1="1320.3" y1="1650.1" x2="1320.3" y2="1617"/>
<line x1="1035.0" y1="1650.1" x2="1035.0" y2="1617"/>
<line x1="749.7" y1="1650.1" x2="749.7" y2="1617"/>
<line x1="464.5" y1="1650.1" x2="464.5" y2="1617"/>
<line x1="2033.4" y1="1650.1" x2="2033.4" y2="1632.5"/>
<line x1="1748.2" y1="1650.1" x2="1748.2" y2="1632.5"/>
<line x1="1462.9" y1="1650.1" x2="1462.9" y2="1632.5"/>
<line x1="1177.6" y1="1650.1" x2="1177.6" y2="1632.5"/>
<line x1="892.4" y1="1650.1" x2="892.4" y2="1632.5"/>
<line x1="607.1" y1="1650.1" x2="607.1" y2="1632.5"/>
<line x1="321.8" y1="1650.1" x2="321.8" y2="1632.5"/>
</g>
<text class="tick" x="2175.1" y="1734" text-anchor="middle">500</text>
<text class="tick" x="1889.8" y="1734" text-anchor="middle">1000</text>
<text class="tick" x="1604.5" y="1734" text-anchor="middle">1500</text>
<text class="tick" x="1319.3" y="1734" text-anchor="middle">2000</text>
<text class="tick" x="1034.0" y="1734" text-anchor="middle">2500</text>
<text class="tick" x="748.7" y="1734" text-anchor="middle">3000</text>
<text class="tick" x="463.5" y="1734" text-anchor="middle">3500</text>
<text class="tick" x="178.2" y="1734" text-anchor="middle">4000</text>
<text class="lab" x="236.8" y="190.0" text-anchor="middle">3864</text>
<text class="lab" x="347.5" y="188.8" text-anchor="middle">3743</text>
<text class="lab" x="488.9" y="380.7" text-anchor="middle">3447</text>
<text class="lab" x="1495.6" y="246.0" text-anchor="middle">1636</text>
<text class="lab" x="1620.1" y="254.4" text-anchor="middle">1520</text>
<text class="lab" x="1855.6" y="358.1" text-anchor="middle">1052</text>
<text class="lab" x="2040.9" y="379.5" text-anchor="middle">700</text>
<text class="lab" x="2119.6" y="374.8" text-anchor="middle">672</text>
<text class="lab" x="230.2" y="469.0" text-anchor="middle">3864</text>
<text class="lab" x="333.3" y="476.1" text-anchor="middle">3743</text>
<text class="lab" x="485.9" y="628.7" text-anchor="middle">3447</text>
<text class="lab" x="1499.2" y="505.9" text-anchor="middle">1636</text>
<text class="lab" x="1608.2" y="514.3" text-anchor="middle">1520</text>
<text class="lab" x="1859.8" y="629.9" text-anchor="middle">1052</text>
<text class="lab" x="2041.5" y="612.0" text-anchor="middle">700</text>
<text class="lab" x="2132.1" y="612.0" text-anchor="middle">632</text>
<text class="lab" x="235.6" y="726.5" text-anchor="middle">3864</text>
<text class="lab" x="340.5" y="734.8" text-anchor="middle">3743</text>
<text class="lab" x="489.9" y="807.5" text-anchor="middle">3447</text>
<text class="lab" x="1495.6" y="746.8" text-anchor="middle">1636</text>
<text class="lab" x="1598.1" y="750.5" text-anchor="middle">1520</text>
<text class="lab" x="1837.6" y="920.9" text-anchor="middle">1052</text>
<text class="lab" x="2011.0" y="986.5" text-anchor="middle">753</text>
<text class="lab" x="2099.3" y="993.5" text-anchor="middle">630</text>
<text class="lab" x="483.5" y="1269.7" text-anchor="middle">3446</text>
<text class="lab" x="711.2" y="1299.5" text-anchor="middle">3044</text>
<text class="lab" x="824.5" y="1329.3" text-anchor="middle">2915</text>
<text class="lab" x="1554.3" y="1624.5" text-anchor="middle">1596</text>
<text class="lab" x="1651.3" y="1534.0" text-anchor="middle">1438</text>
<text class="lab" x="1935.1" y="1531.2" text-anchor="middle">869</text>
<text class="lab" x="1981.6" y="1594.3" text-anchor="middle">806</text>
<text class="lab" x="2086.9" y="1603.8" text-anchor="middle">747</text>
<text class="big" x="1146.9" y="164.3" text-anchor="middle">(d)</text>
<text class="big" x="1144.5" y="451.6" text-anchor="middle">(c)</text>
<text class="big" x="1146.3" y="709.0" text-anchor="middle">(b)</text>
<text class="big" x="1146.9" y="1076.0" text-anchor="middle">(a)</text>
<clipPath id="cb"><rect x="0" y="0" width="2247" height="1871.7"/></clipPath>
<text clip-path="url(#cb)" class="ttl"><tspan x="833" y="1864.5" style="font-size:81.1px">Wavenumbers (cm</tspan><tspan x="1505.1" y="1828.9" style="font-size:62px">-</tspan><tspan x="1522" y="1825" style="font-size:50px">1</tspan><tspan x="1553" y="1864.5">)</tspan></text>
<text class="ttl" transform="translate(81,1153) rotate(-90)" textLength="641" lengthAdjust="spacingAndGlyphs" style="font-size:80px">Transmittance (%)</text>
</g>
<defs><filter id="bl" x="0" y="0" width="100%" height="100%" filterUnits="userSpaceOnUse"><feGaussianBlur stdDeviation="1.5"/></filter></defs>
</svg></body></html>
